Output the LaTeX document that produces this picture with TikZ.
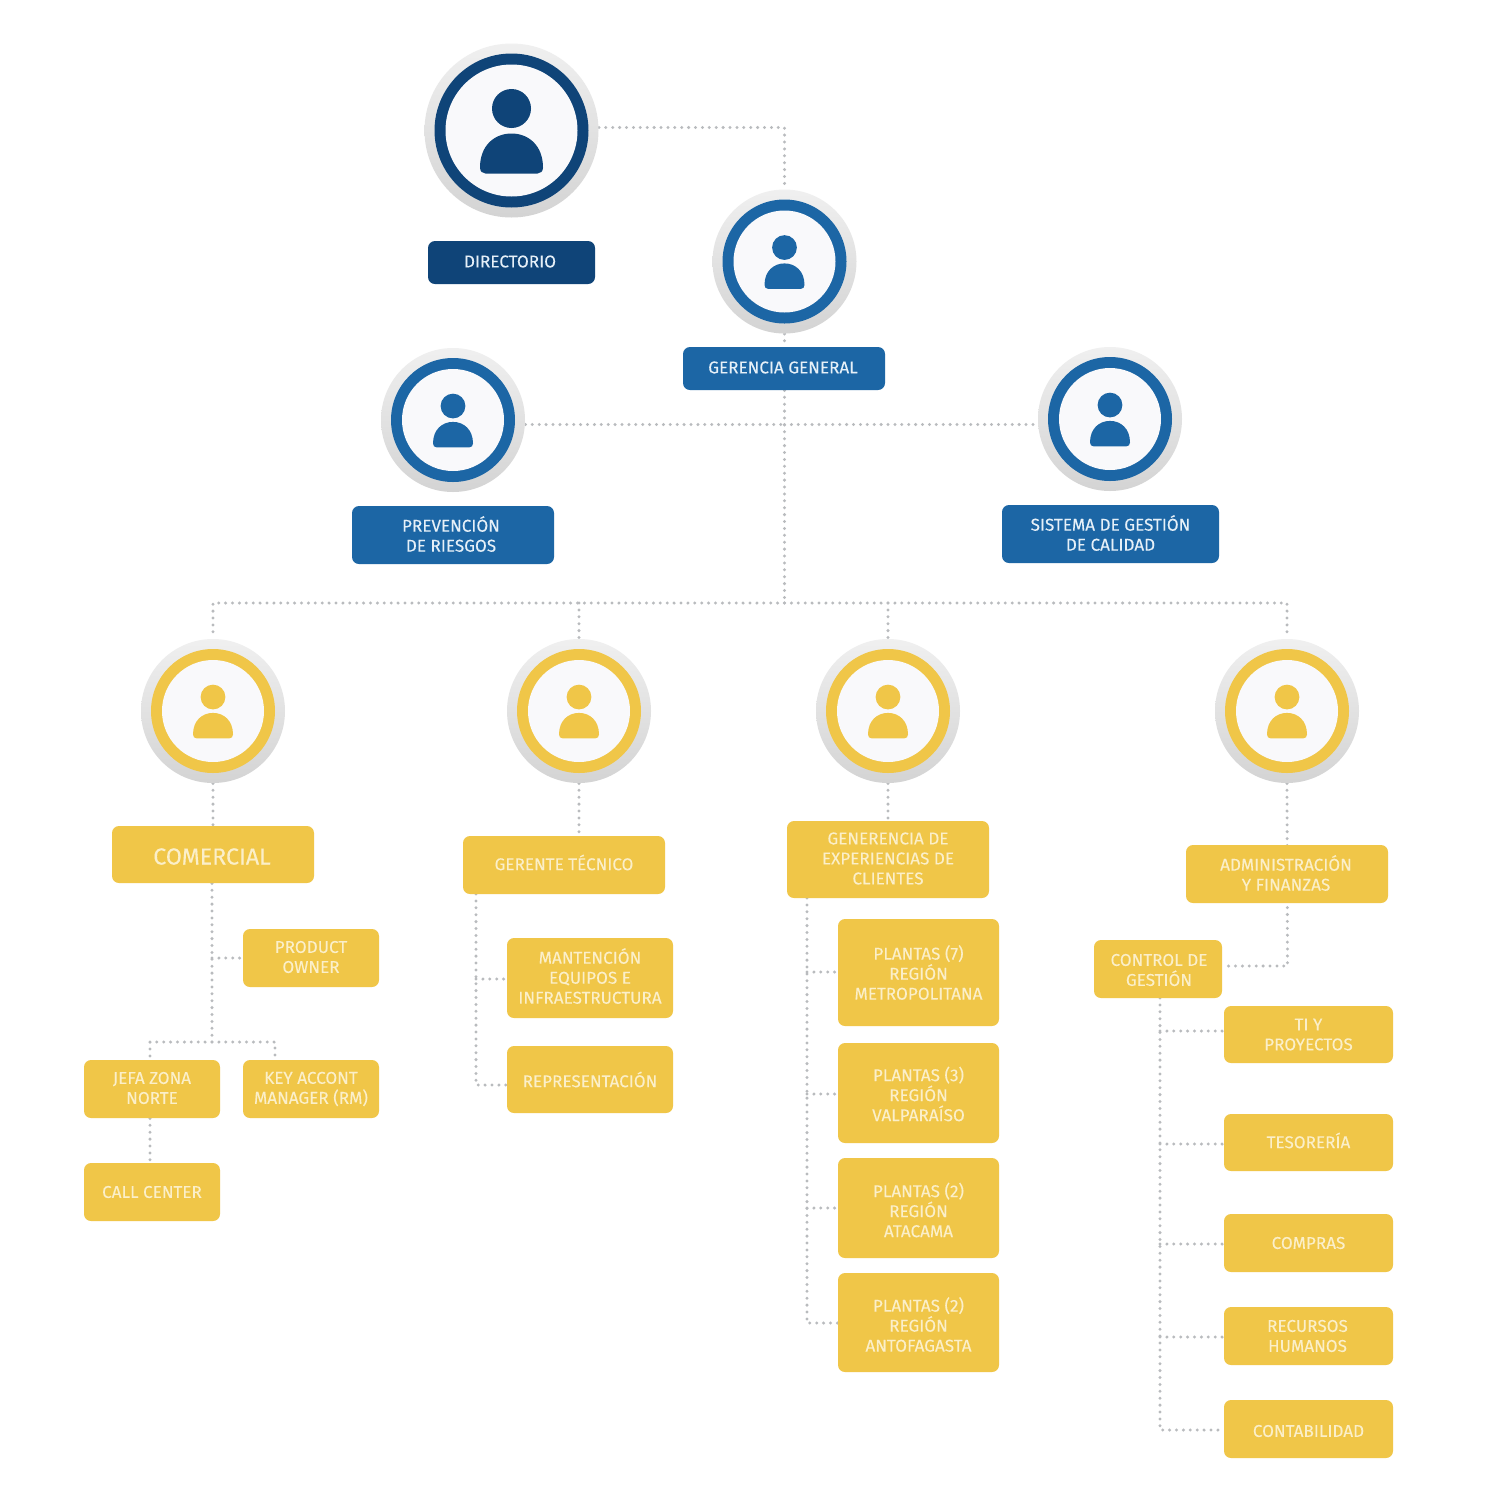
\documentclass[tikz,border=0pt]{standalone}
\usepackage{fontspec}
\setmainfont{Fira Sans}[FakeBold=0.12]
\usetikzlibrary{backgrounds}
\definecolor{navy}{HTML}{0F4478}
\definecolor{midblue}{HTML}{1C66A5}
\definecolor{gold}{HTML}{F0C648}
\definecolor{paleblue}{HTML}{E6F0F8}
\definecolor{palegold}{HTML}{FBEFC9}
\definecolor{dotgray}{HTML}{B9BBBE}
\definecolor{face}{HTML}{F9F9FB}
\tikzset{
  dotline/.style={draw=dotgray,line width=1.65pt,line cap=round,dash pattern=on 0pt off 3.45pt},
  card/.style={rounded corners=3.5pt,inner sep=0pt},
  navycard/.style={card,fill=navy},
  bluecard/.style={card,fill=midblue},
  goldcard/.style={card,fill=gold},
  cardtext/.style={inner sep=0pt,align=center,font=\fontsize{8.55}{10}\selectfont},
  bluetext/.style={cardtext,text=paleblue},
  goldtext/.style={cardtext,text=palegold},
  bigtext/.style={goldtext,font=\fontsize{11.6}{13}\selectfont},
  halo/.style={circle,inner sep=0pt,top color=black!6,bottom color=black!17},
  off/.style 2 args={xshift=(#1)*0.5pt,yshift=-(#2)*0.5pt},
}
% card style, name, x1, y1, x2, y2, text style, offset, text
\newcommand\BX[9]{\node[#1,minimum width={(#5-#3)*0.5pt},minimum height={(#6-#4)*0.5pt},label={[#7,#8]center:{#9}}] (#2) at ({(#3+#5)/2},{(#4+#6)/2}) {};}
% name, x, y, outer radius, icon scale, colour
\newcommand\AVA[6]{%
  \node[halo,minimum size={2*#4*0.5pt}] (#1) at (#2,#3) {};
  \fill[#6] (#2,#3) circle ({(#4-10)});
  \fill[face] (#2,#3) circle ({(#4-21)});
  \begin{scope}[shift={(#2,#3)},x=#5*0.5pt,y=-#5*0.5pt]
    \fill[#6] (0,-22) circle (19.5);
    \fill[#6] (-31.5,37) .. controls (-31.5,15) and (-17,3) .. (0,3) .. controls (17,3) and (31.5,15) .. (31.5,37)
      .. controls (31.5,41) and (29,43) .. (26,43) -- (-26,43) .. controls (-29,43) and (-31.5,41) .. (-31.5,37) -- cycle;
  \end{scope}}
\begin{document}
\begin{tikzpicture}[x=0.5pt,y=-0.5pt]
\useasboundingbox (0,0) rectangle (1500,1500);
\AVA{dir}{511.5}{130.5}{87}{1}{navy}
\AVA{gg}{784.5}{261.5}{72}{0.635}{midblue}
\AVA{prev}{453}{420}{72}{0.635}{midblue}
\AVA{sist}{1110}{419}{72}{0.635}{midblue}
\AVA{com}{213}{711}{72}{0.635}{gold}
\AVA{tec}{579}{711}{72}{0.635}{gold}
\AVA{exper}{888}{711}{72}{0.635}{gold}
\AVA{adm}{1287}{711}{72}{0.635}{gold}

\BX{navycard}{bdir}{428}{241}{595}{284}{bluetext}{off={-1.5}{-1}}{DIRECTORIO}
\BX{bluecard}{bgg}{683}{347}{885}{390}{bluetext}{off={-1}{-1}}{GERENCIA GENERAL}
\BX{bluecard}{bprev}{352}{506}{554}{564}{bluetext}{off={-2}{-1}}{PREVENCIÓN\\DE RIESGOS}
\BX{bluecard}{bsist}{1002}{505}{1219}{563}{bluetext}{off={0}{-1}}{SISTEMA DE GESTIÓN\\DE CALIDAD}
\BX{goldcard}{bcom}{112}{826}{314}{883}{bigtext}{off={-1}{2}}{COMERCIAL}
\BX{goldcard}{btec}{463}{836}{665}{894}{goldtext}{off={0}{-2.5}}{GERENTE TÉCNICO}
\BX{goldcard}{bexp}{787}{821}{989}{898}{goldtext}{off={0}{-1}}{GENERENCIA DE\\EXPERIENCIAS DE\\CLIENTES}
\BX{goldcard}{badm}{1186}{845}{1388}{903}{goldtext}{off={-1}{-1}}{ADMINISTRACIÓN\\Y FINANZAS}
\BX{goldcard}{bpo}{243}{929}{379}{987}{goldtext}{off={0}{-1}}{PRODUCT\\OWNER}
\BX{goldcard}{bjefa}{84}{1060}{220}{1118}{goldtext}{off={0}{-1}}{JEFA ZONA\\NORTE}
\BX{goldcard}{bkey}{243}{1060}{379}{1118}{goldtext}{off={0}{0}}{KEY ACCONT\\MANAGER (RM)}
\BX{goldcard}{bcall}{84}{1163}{220}{1221}{goldtext}{off={0}{0}}{CALL CENTER}
\BX{goldcard}{bman}{507}{938}{673}{1018}{goldtext}{off={0}{-2}}{MANTENCIÓN\\EQUIPOS E\\INFRAESTRUCTURA}
\BX{goldcard}{brep}{507}{1046}{673}{1113}{goldtext}{off={0}{0}}{REPRESENTACIÓN}
\BX{goldcard}{bp1}{838}{919}{999}{1026}{goldtext}{off={0}{0}}{PLANTAS (7)\\REGIÓN\\METROPOLITANA}
\BX{goldcard}{bp2}{838}{1043}{999}{1143}{goldtext}{off={0}{1}}{PLANTAS (3)\\REGIÓN\\VALPARAÍSO}
\BX{goldcard}{bp3}{838}{1158}{999}{1258}{goldtext}{off={0}{2}}{PLANTAS (2)\\REGIÓN\\ATACAMA}
\BX{goldcard}{bp4}{838}{1273}{999}{1372}{goldtext}{off={0}{2}}{PLANTAS (2)\\REGIÓN\\ANTOFAGASTA}
\BX{goldcard}{bctl}{1094}{940}{1222}{998}{goldtext}{off={1}{1}}{CONTROL DE\\GESTIÓN}
\BX{goldcard}{bti}{1224}{1006}{1393}{1063}{goldtext}{off={0}{0}}{TI Y\\PROYECTOS}
\BX{goldcard}{btes}{1224}{1114}{1393}{1171}{goldtext}{off={0}{-2}}{TESORERÍA}
\BX{goldcard}{bcmp}{1224}{1214}{1393}{1272}{goldtext}{off={0}{0}}{COMPRAS}
\BX{goldcard}{brh}{1224}{1307}{1393}{1365}{goldtext}{off={-1}{0}}{RECURSOS\\HUMANOS}
\BX{goldcard}{bcon}{1224}{1400}{1393}{1458}{goldtext}{off={0}{2}}{CONTABILIDAD}

\coordinate (jd) at (784.5,127.5);
\coordinate (jm) at (784.5,424.5);
\coordinate (jb) at (784.5,603);
\coordinate (ja) at (1287.5,966);
\coordinate (jc1) at (212,958);
\coordinate (jc2) at (212,1042);
\coordinate (jc3) at (150,1042);
\coordinate (jc4) at (275,1042);
\coordinate (jt0) at (476,894);
\coordinate (jt1) at (476,979);
\coordinate (jt2) at (476,1085);
\coordinate (je0) at (807,898);
\coordinate (je1) at (807,972);
\coordinate (je2) at (807,1094);
\coordinate (je3) at (807,1208);
\coordinate (je4) at (807,1323);
\coordinate (jk0) at (1160,998);
\coordinate (jk1) at (1160,1031);
\coordinate (jk2) at (1160,1144);
\coordinate (jk3) at (1160,1244);
\coordinate (jk4) at (1160,1337);
\coordinate (jk5) at (1160,1430);

\begin{scope}[on background layer]
\fill[white] (0,0) rectangle (1500,1500);
\draw[dotline] (dir.east |- jd) -- (jd) -- (gg.north);
\draw[dotline] (gg.south) -- (gg.south |- bgg.north);
\draw[dotline] (gg.south |- bgg.south) -- (jb);
\draw[dotline] (prev.east |- jm) -- (jm);
\draw[dotline] (jm) -- (sist.west |- jm);
\draw[dotline] (jb) -- (com.north |- jb) -- (com.north);
\draw[dotline] (jb) -- (adm.north |- jb) -- (adm.north);
\draw[dotline] (tec.north |- jb) -- (tec.north);
\draw[dotline] (exper.north |- jb) -- (exper.north);
\draw[dotline] (com.south) -- (com.south |- bcom.north);
\draw[dotline] (tec.south) -- (tec.south |- btec.north);
\draw[dotline] (exper.south) -- (exper.south |- bexp.north);
\draw[dotline] (adm.south) -- (ja) -- (bctl.east |- ja);
\draw[dotline] (jc1 |- bcom.south) -- (jc2);
\draw[dotline] (jc1) -- (jc1 -| bpo.west);
\draw[dotline] (jc2) -- (jc3) -- (jc3 |- bjefa.north);
\draw[dotline] (jc2) -- (jc4) -- (jc4 |- bkey.north);
\draw[dotline] (jc3 |- bjefa.south) -- (jc3 |- bcall.north);
\draw[dotline] (jt0) -- (jt2) -- (jt2 -| brep.west);
\draw[dotline] (jt1) -- (jt1 -| bman.west);
\draw[dotline] (je0) -- (je4) -- (je4 -| bp4.west);
\draw[dotline] (je1) -- (je1 -| bp1.west);
\draw[dotline] (je2) -- (je2 -| bp2.west);
\draw[dotline] (je3) -- (je3 -| bp3.west);
\draw[dotline] (jk0) -- (jk5) -- (jk5 -| bcon.west);
\draw[dotline] (jk1) -- (jk1 -| bti.west);
\draw[dotline] (jk2) -- (jk2 -| btes.west);
\draw[dotline] (jk3) -- (jk3 -| bcmp.west);
\draw[dotline] (jk4) -- (jk4 -| brh.west);
\end{scope}
\end{tikzpicture}
\end{document}
